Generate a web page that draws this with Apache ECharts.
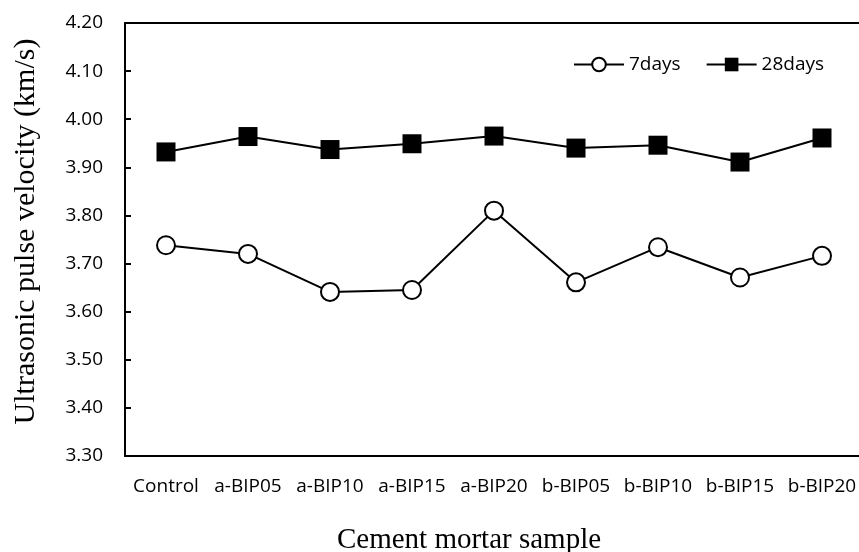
<!DOCTYPE html>
<html>
<head>
<meta charset="utf-8">
<script src="https://cdn.jsdelivr.net/npm/echarts@6/dist/echarts.min.js"></script>
<style>
html,body{margin:0;padding:0;background:#fff;}
#c{width:859px;height:552px;}
</style>
</head>
<body>
<div id="c"></div>
<script>
const categories = ["Control","a-BIP05","a-BIP10","a-BIP15","a-BIP20","b-BIP05","b-BIP10","b-BIP15","b-BIP20"];
const days7 = [3.738, 3.720, 3.641, 3.645, 3.810, 3.661, 3.734, 3.671, 3.716];
const days28 = [3.932, 3.964, 3.937, 3.949, 3.965, 3.940, 3.946, 3.911, 3.961];
const yTicks = {min: 3.30, max: 4.20, interval: 0.10};

const chart = echarts.init(document.getElementById('c'), null, {renderer:'canvas'});
const sans = '"Open Sans", "Noto Sans", sans-serif';
const serif = '"Liberation Serif", "Times New Roman", serif';
chart.setOption({
  animation: false,
  backgroundColor: '#fff',
  grid: {left: 125, top: 23, width: 738, bottom: 96, outerBoundsMode: 'none', containLabel: false},
  legend: {
    left: 568, top: 50, itemWidth: 50, itemHeight: 17, itemGap: 25,
    textStyle: {fontFamily: sans, fontSize: 19, color: '#000'},
    data: ['7days','28days']
  },
  xAxis: [{
    type: 'category', data: categories, boundaryGap: true,
    name: 'Cement mortar sample', nameLocation: 'middle', nameGap: 70,
    nameTextStyle: {fontFamily: serif, fontSize: 29, color: '#000', padding: [0, 50, 0, 0]},
    axisLine: {lineStyle: {color: '#000', width: 2}},
    axisTick: {inside: true, length: 6, lineStyle: {color: '#000', width: 2}},
    axisLabel: {fontFamily: sans, fontSize: 19, color: '#000', margin: 21, interval: 0},
    splitLine: {show: false}
  }, {
    type: 'category', data: categories, position: 'top',
    axisLine: {show: true, lineStyle: {color: '#000', width: 2}},
    axisTick: {show: false}, axisLabel: {show: false}, splitLine: {show: false}
  }],
  yAxis: {
    type: 'value', min: yTicks.min, max: yTicks.max, interval: yTicks.interval,
    name: 'Ultrasonic pulse velocity (km/s)', nameLocation: 'middle', nameGap: 84,
    nameTextStyle: {fontFamily: serif, fontSize: 30, color: '#000', padding: [0, 0, 0, 16]},
    axisLine: {show: true, lineStyle: {color: '#000', width: 2}},
    axisTick: {show: true, inside: true, length: 6, lineStyle: {color: '#000', width: 2}},
    axisLabel: {fontFamily: sans, fontSize: 19, color: '#000', margin: 22, formatter: v => v.toFixed(2)},
    splitLine: {show: false}
  },
  series: [
    {
      name: '7days', type: 'line', data: days7,
      symbol: 'circle', symbolSize: 18,
      lineStyle: {color: '#000', width: 2},
      itemStyle: {color: '#fff', borderColor: '#000', borderWidth: 2},
      z: 3
    },
    {
      name: '28days', type: 'line', data: days28,
      symbol: 'rect', symbolSize: 19,
      lineStyle: {color: '#000', width: 2},
      itemStyle: {color: '#000', borderColor: '#000', borderWidth: 0},
      z: 3
    }
  ]
});
</script>
</body>
</html>
